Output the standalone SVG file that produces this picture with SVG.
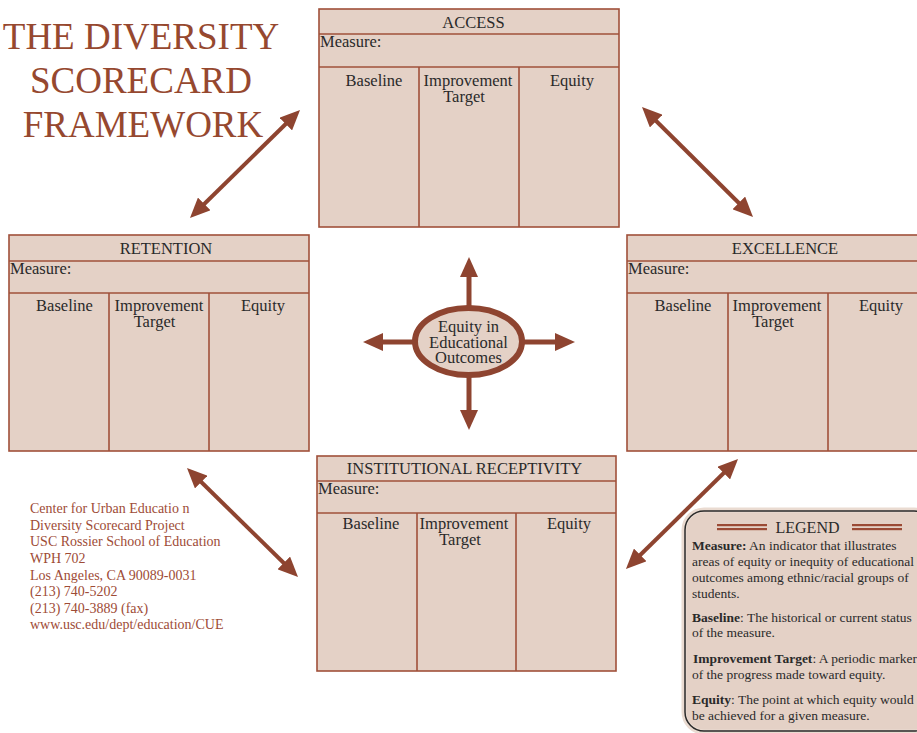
<svg xmlns="http://www.w3.org/2000/svg" width="917" height="733" viewBox="0 0 917 733">
  <defs>
    <style>
      .card { fill: #E4D1C6; stroke: #A0503A; stroke-width: 1.6; }
      .rule { stroke: #A0503A; stroke-width: 1.6; fill: none; }
      .t { font-family: "Liberation Serif", "Times New Roman", serif; fill: #2A2A2A; }
      .hdr { font-size: 16.5px; text-anchor: middle; }
      .lbl { font-size: 16.5px; }
      .mid { text-anchor: middle; }
      .title { font-family: "Liberation Serif", "Times New Roman", serif; font-size: 37px; fill: #96482F; text-anchor: middle; }
      .addr { font-family: "Liberation Serif", "Times New Roman", serif; font-size: 14px; fill: #9E4B36; }
      .leg { font-family: "Liberation Serif", "Times New Roman", serif; font-size: 13.5px; fill: #2A2A2A; }
      .link { stroke: #8E4430; stroke-width: 4; fill: none; marker-start: url(#head); marker-end: url(#head); }
      .spoke { stroke: #8E4430; stroke-width: 5; fill: none; marker-end: url(#head); }
    </style>
    <marker id="head" viewBox="0 0 20 18" refX="10" refY="9" markerWidth="20" markerHeight="18" markerUnits="userSpaceOnUse" orient="auto-start-reverse">
      <path d="M0,0 L20,9 L0,18 Z" fill="#8E4430"/>
    </marker>
  </defs>

  <!-- Title -->
  <g id="title">
    <text class="title" x="141" y="49">THE DIVERSITY</text>
    <text class="title" x="141" y="93">SCORECARD</text>
    <text class="title" x="143" y="137">FRAMEWORK</text>
  </g>

  <!-- Connectors -->
  <g id="connectors">
    <line class="link" x1="197.1" y1="211" x2="292.9" y2="117"/>
    <line class="link" x1="649.1" y1="114" x2="745.9" y2="210"/>
    <line class="link" x1="194.1" y1="475" x2="290.9" y2="570"/>
    <line class="link" x1="730.9" y1="466" x2="633.1" y2="562"/>
    <line class="spoke" x1="469" y1="308" x2="469" y2="267"/>
    <line class="spoke" x1="415" y1="342" x2="373" y2="342"/>
    <line class="spoke" x1="523" y1="342" x2="565" y2="342"/>
    <line class="spoke" x1="469" y1="376" x2="469" y2="420"/>
  </g>

  <!-- ACCESS -->
  <g id="access">
    <rect class="card" x="319" y="9" width="300" height="218"/>
    <line class="rule" x1="319" y1="34" x2="619" y2="34"/>
    <line class="rule" x1="319" y1="67" x2="619" y2="67"/>
    <line class="rule" x1="419" y1="67" x2="419" y2="227"/>
    <line class="rule" x1="519" y1="67" x2="519" y2="227"/>
    <text class="t hdr" x="473.5" y="28">ACCESS</text>
    <text class="t lbl" x="320" y="47">Measure:</text>
    <text class="t lbl mid" x="374" y="85.5">Baseline</text>
    <text class="t lbl mid" x="468" y="85.5">Improvement</text>
    <text class="t lbl mid" x="464" y="101.5">Target</text>
    <text class="t lbl mid" x="572" y="85.5">Equity</text>
  </g>

  <!-- RETENTION -->
  <g id="retention">
    <rect class="card" x="9" y="235" width="300" height="216"/>
    <line class="rule" x1="9" y1="261" x2="309" y2="261"/>
    <line class="rule" x1="9" y1="293" x2="309" y2="293"/>
    <line class="rule" x1="109" y1="293" x2="109" y2="451"/>
    <line class="rule" x1="209" y1="293" x2="209" y2="451"/>
    <text class="t hdr" x="166" y="254">RETENTION</text>
    <text class="t lbl" x="10" y="274">Measure:</text>
    <text class="t lbl mid" x="64.5" y="310.5">Baseline</text>
    <text class="t lbl mid" x="159" y="310.5">Improvement</text>
    <text class="t lbl mid" x="154.5" y="326.5">Target</text>
    <text class="t lbl mid" x="263" y="310.5">Equity</text>
  </g>

  <!-- EXCELLENCE -->
  <g id="excellence">
    <rect class="card" x="627" y="235" width="300" height="216"/>
    <line class="rule" x1="627" y1="261" x2="927" y2="261"/>
    <line class="rule" x1="627" y1="293" x2="927" y2="293"/>
    <line class="rule" x1="728" y1="293" x2="728" y2="451"/>
    <line class="rule" x1="828" y1="293" x2="828" y2="451"/>
    <text class="t hdr" x="785" y="254">EXCELLENCE</text>
    <text class="t lbl" x="628" y="274">Measure:</text>
    <text class="t lbl mid" x="683" y="310.5">Baseline</text>
    <text class="t lbl mid" x="777" y="310.5">Improvement</text>
    <text class="t lbl mid" x="773" y="326.5">Target</text>
    <text class="t lbl mid" x="881" y="310.5">Equity</text>
  </g>

  <!-- INSTITUTIONAL RECEPTIVITY -->
  <g id="receptivity">
    <rect class="card" x="317" y="456" width="299" height="215"/>
    <line class="rule" x1="317" y1="481" x2="616" y2="481"/>
    <line class="rule" x1="317" y1="513" x2="616" y2="513"/>
    <line class="rule" x1="417" y1="513" x2="417" y2="671"/>
    <line class="rule" x1="516" y1="513" x2="516" y2="671"/>
    <text class="t hdr" x="464.5" y="474">INSTITUTIONAL RECEPTIVITY</text>
    <text class="t lbl" x="318" y="494">Measure:</text>
    <text class="t lbl mid" x="371" y="529">Baseline</text>
    <text class="t lbl mid" x="464" y="529">Improvement</text>
    <text class="t lbl mid" x="460" y="545">Target</text>
    <text class="t lbl mid" x="569" y="529">Equity</text>
  </g>

  <!-- Central hub -->
  <g id="hub">
    <ellipse cx="468.5" cy="341.5" rx="53.5" ry="33.5" fill="#E4D1C6" stroke="#8E4430" stroke-width="6"/>
    <text class="t lbl mid" x="468.5" y="332">Equity in</text>
    <text class="t lbl mid" x="468.5" y="347.5">Educational</text>
    <text class="t lbl mid" x="468.5" y="363">Outcomes</text>
  </g>

  <!-- Contact block -->
  <g id="contact" class="addr">
    <text x="30" y="513">Center for Urban Educatio n</text>
    <text x="30" y="529.5">Diversity Scorecard Project</text>
    <text x="30" y="546">USC Rossier School of Education</text>
    <text x="30" y="563">WPH 702</text>
    <text x="30" y="580">Los Angeles, CA  90089-0031</text>
    <text x="30" y="596">(213) 740-5202</text>
    <text x="30" y="613">(213) 740-3889 (fax)</text>
    <text x="30" y="629">www.usc.edu/dept/education/CUE</text>
  </g>

  <!-- Legend -->
  <g id="legend">
    <rect x="684" y="510" width="250" height="222" rx="20" fill="#E4D1C6" stroke="#EADBD1" stroke-width="5"/>
    <rect x="685" y="511" width="248" height="220" rx="19" fill="none" stroke="#2A2A2A" stroke-width="1.5"/>
    <rect x="717" y="524" width="50" height="2.2" fill="#9B4A35"/>
    <rect x="717" y="528" width="50" height="2.2" fill="#9B4A35"/>
    <rect x="852" y="524" width="50" height="2.2" fill="#9B4A35"/>
    <rect x="852" y="528" width="50" height="2.2" fill="#9B4A35"/>
    <text class="t" x="807.5" y="533" font-size="16" text-anchor="middle">LEGEND</text>
    <text class="leg" x="692" y="550"><tspan font-weight="bold">Measure:</tspan> An indicator that illustrates</text>
    <text class="leg" x="692" y="566">areas of equity or inequity of educational</text>
    <text class="leg" x="692" y="582">outcomes among ethnic/racial groups of</text>
    <text class="leg" x="692" y="597.5">students.</text>
    <text class="leg" x="692" y="622"><tspan font-weight="bold">Baseline</tspan>:  The historical or current status</text>
    <text class="leg" x="692" y="637">of the measure.</text>
    <text class="leg" x="693" y="663"><tspan font-weight="bold">Improvement Target</tspan>: A periodic marker</text>
    <text class="leg" x="692" y="678.5">of the progress made toward equity.</text>
    <text class="leg" x="692" y="704"><tspan font-weight="bold">Equity</tspan>: The point at which equity would</text>
    <text class="leg" x="692" y="720">be achieved for a given measure.</text>
  </g>
</svg>
